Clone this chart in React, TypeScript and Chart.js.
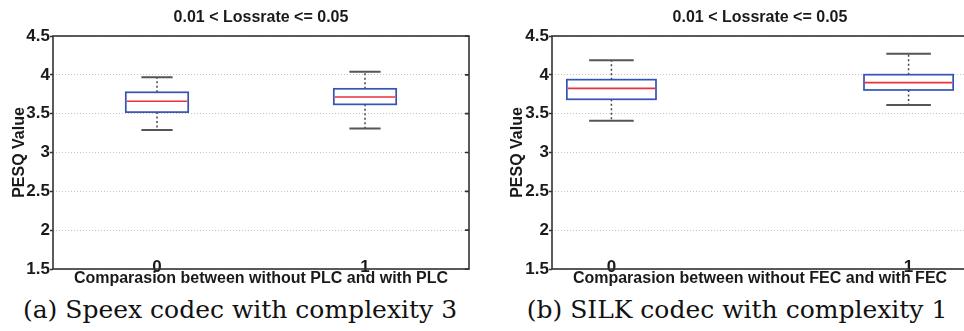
import React, { useEffect, useRef } from 'react';
import { Chart, registerables } from 'chart.js';

Chart.register(...registerables);

const TITLE = '0.01 < Lossrate <= 0.05';
const Y_LABEL = 'PESQ Value';
const Y_TICKS = [1.5, 2, 2.5, 3, 3.5, 4, 4.5];
const GROUPS = [0, 1];

const SPEEX_X_LABEL = 'Comparasion between without PLC and with PLC';
const SPEEX_CAPTION = '(a) Speex codec with complexity 3';
const SPEEX_MIN = [3.29, 3.31];
const SPEEX_Q1 = [3.52, 3.62];
const SPEEX_MED = [3.66, 3.715];
const SPEEX_Q3 = [3.775, 3.82];
const SPEEX_MAX = [3.97, 4.04];

const SILK_X_LABEL = 'Comparasion between without FEC and with FEC';
const SILK_CAPTION = '(b) SILK codec with complexity 1';
const SILK_MIN = [3.41, 3.61];
const SILK_Q1 = [3.685, 3.805];
const SILK_MED = [3.826, 3.9];
const SILK_Q3 = [3.938, 4.002];
const SILK_MAX = [4.187, 4.272];

const SANS = '"Liberation Sans", Arial, Helvetica, sans-serif';
const SERIF = '"DejaVu Serif", "Liberation Serif", serif';
const TEXT = '#1a1a1a';

type BoxProps = {
  xLabel: string;
  mins: number[];
  q1: number[];
  meds: number[];
  q3: number[];
  maxs: number[];
  xMin: number;
  xMax: number;
  width: number;
  height: number;
  yWidth: number;
  padLeft: number;
  padRight: number;
};

function BoxChart(p: BoxProps) {
  const ref = useRef<HTMLCanvasElement | null>(null);
  useEffect(() => {
    if (!ref.current) return;
    const BOX_W = 0.3;
    const CAP_W = 0.15;
    const boxPlugin = {
      id: 'boxes',
      afterDatasetsDraw(chart: any) {
        const { ctx, scales } = chart;
        const x = scales.x;
        const y = scales.y;
        ctx.save();
        GROUPS.forEach((g, i) => {
          const xc = x.getPixelForValue(g);
          const xl = x.getPixelForValue(g - BOX_W / 2);
          const xr = x.getPixelForValue(g + BOX_W / 2);
          const cl = x.getPixelForValue(g - CAP_W / 2);
          const cr = x.getPixelForValue(g + CAP_W / 2);
          const yMin = y.getPixelForValue(p.mins[i]);
          const yQ1 = y.getPixelForValue(p.q1[i]);
          const yMed = y.getPixelForValue(p.meds[i]);
          const yQ3 = y.getPixelForValue(p.q3[i]);
          const yMax = y.getPixelForValue(p.maxs[i]);
          // whiskers
          ctx.strokeStyle = '#444';
          ctx.lineWidth = 1.5;
          ctx.setLineDash([2, 2.5]);
          ctx.beginPath();
          ctx.moveTo(xc, yQ3);
          ctx.lineTo(xc, yMax);
          ctx.moveTo(xc, yQ1);
          ctx.lineTo(xc, yMin);
          ctx.stroke();
          ctx.setLineDash([]);
          // caps
          ctx.strokeStyle = '#555';
          ctx.lineWidth = 2;
          ctx.beginPath();
          ctx.moveTo(cl, yMax);
          ctx.lineTo(cr, yMax);
          ctx.moveTo(cl, yMin);
          ctx.lineTo(cr, yMin);
          ctx.stroke();
          // box
          ctx.strokeStyle = '#3552b5';
          ctx.lineWidth = 1.7;
          ctx.strokeRect(xl, yQ3, xr - xl, yQ1 - yQ3);
          // median
          ctx.strokeStyle = '#e8333a';
          ctx.lineWidth = 1.6;
          ctx.beginPath();
          ctx.moveTo(xl + 1, yMed);
          ctx.lineTo(xr - 1, yMed);
          ctx.stroke();
        });
        ctx.restore();
      },
      afterDraw(chart: any) {
        const { ctx, chartArea, scales } = chart;
        const y = scales.y;
        ctx.save();
        ctx.strokeStyle = '#333';
        ctx.lineWidth = 1.6;
        // inward ticks on right border
        ctx.beginPath();
        Y_TICKS.forEach((v) => {
          const py = y.getPixelForValue(v);
          ctx.moveTo(chartArea.right, py);
          ctx.lineTo(chartArea.right - 4, py);
        });
        ctx.stroke();
        ctx.strokeRect(chartArea.left, chartArea.top, chartArea.right - chartArea.left, chartArea.bottom - chartArea.top);
        ctx.restore();
      },
    };

    const font = { family: SANS, size: 16, weight: 'bold' as const };
    const tickFont = { family: SANS, size: 17, weight: 'bold' as const };
    const chart = new Chart(ref.current, {
      type: 'scatter',
      data: {
        datasets: [
          {
            label: 'median',
            data: GROUPS.map((g, i) => ({ x: g, y: p.meds[i] })),
            pointRadius: 0,
            showLine: false,
          },
        ],
      },
      options: {
        animation: false,
        responsive: false,
        events: [],
        layout: { padding: { left: p.padLeft, right: p.padRight, top: 0, bottom: 0 } },
        plugins: {
          legend: { display: false },
          tooltip: { enabled: false },
          title: {
            display: true,
            text: TITLE,
            color: TEXT,
            font,
            fullSize: false,
            padding: { top: 8, bottom: 8.8 },
          },
        },
        scales: {
          x: {
            type: 'linear',
            min: p.xMin,
            max: p.xMax,
            afterBuildTicks: (s: any) => {
              s.ticks = GROUPS.map((v) => ({ value: v }));
            },
            grid: { display: false, drawTicks: false },
            border: { display: false },
            ticks: {
              mirror: true,
              padding: -8.5,
              color: TEXT,
              font: tickFont,
              maxRotation: 0,
              autoSkip: false,
              callback: (v: any) => String(v),
            },
            title: {
              display: true,
              text: p.xLabel,
              color: TEXT,
              font,
              padding: { top: 0, bottom: 2 },
            },
            afterFit: (s: any) => {
              s.height = 21;
            },
          },
          y: {
            type: 'linear',
            min: 1.5,
            max: 4.5,
            afterBuildTicks: (s: any) => {
              s.ticks = Y_TICKS.map((v) => ({ value: v }));
            },
            grid: {
              color: '#c4c4c4',
              lineWidth: 1,
              drawTicks: true,
              tickLength: 3,
              tickColor: '#333',
              tickWidth: 1.5,
            },
            border: { display: false, dash: [1, 2] },
            ticks: {
              padding: 0,
              color: TEXT,
              font: tickFont,
              autoSkip: false,
              callback: (v: any) => String(v),
            },
            title: {
              display: true,
              text: Y_LABEL,
              color: TEXT,
              font,
              padding: { top: 10, bottom: 0 },
            },
            afterFit: (s: any) => {
              s.width = p.yWidth;
            },
          },
        },
      },
      plugins: [boxPlugin],
    } as any);
    return () => chart.destroy();
  }, []);
  return <canvas ref={ref} width={p.width} height={p.height} style={{ display: 'block' }} />;
}

export default function App() {
  const captionStyle: React.CSSProperties = {
    position: 'absolute',
    top: 295,
    width: 480,
    height: 30,
    lineHeight: '30px',
    fontSize: 25,
    fontFamily: SERIF,
    color: '#111',
    textAlign: 'center',
    whiteSpace: 'nowrap',
  };
  return (
    <div
      style={{
        position: 'absolute',
        left: 0,
        top: 0,
        width: 964,
        height: 331,
        overflow: 'hidden',
        background: '#fff',
      }}
    >
      <div style={{ position: 'absolute', left: 0, top: 0 }}>
        <BoxChart
          xLabel={SPEEX_X_LABEL}
          mins={SPEEX_MIN}
          q1={SPEEX_Q1}
          meds={SPEEX_MED}
          q3={SPEEX_Q3}
          maxs={SPEEX_MAX}
          xMin={-0.5}
          xMax={1.5}
          width={484}
          height={290}
          yWidth={53}
          padLeft={0}
          padRight={15}
        />
      </div>
      <div style={{ position: 'absolute', left: 484, top: 0 }}>
        <BoxChart
          xLabel={SILK_X_LABEL}
          mins={SILK_MIN}
          q1={SILK_Q1}
          meds={SILK_MED}
          q3={SILK_Q3}
          maxs={SILK_MAX}
          xMin={-0.2}
          xMax={1.2}
          width={490}
          height={290}
          yWidth={54}
          padLeft={14}
          padRight={6}
        />
      </div>
      <div style={{ ...captionStyle, left: 0 }}>{SPEEX_CAPTION}</div>
      <div style={{ ...captionStyle, left: 497 }}>{SILK_CAPTION}</div>
    </div>
  );
}
